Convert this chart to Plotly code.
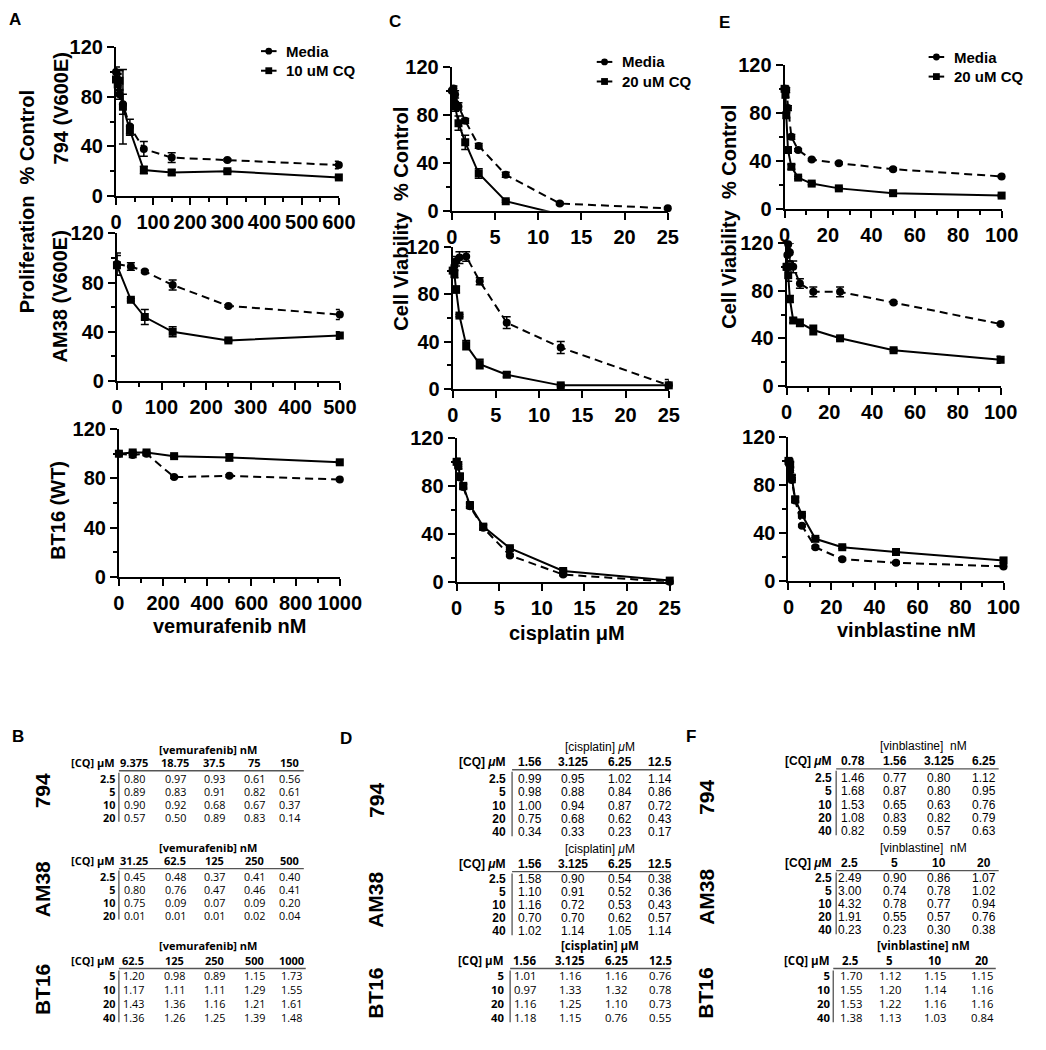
import plotly.graph_objects as go

W, H = 1046, 1050

# ---------------- Panel A: vemurafenib ----------------
vem_794_dose = [0, 4.6875, 9.375, 18.75, 37.5, 75, 150, 300, 600]
vem_794_media = [100, 94, 82, 74, 56, 38, 31, 29, 25]
vem_794_media_err = [4, 5, 4, 8, 6, 6, 4, 1, 3]
vem_794_cq = [94, 90, 93, 72, 53, 21, 19, 20, 15]
vem_794_cq_err = [6, 8, 8, 30, 4, 3, 2, 1, 1]

vem_am38_dose = [0, 31.25, 62.5, 125, 250, 500]
vem_am38_media = [95, 93, 89, 78, 61, 54]
vem_am38_media_err = [9, 3, 1, 4, 1, 4]
vem_am38_cq = [94, 66, 52, 40, 33, 37]
vem_am38_cq_err = [8, 1, 6, 4, 1, 3]

vem_bt16_dose = [0, 62.5, 125, 250, 500, 1000]
vem_bt16_media = [100, 99, 100, 81, 82, 79]
vem_bt16_media_err = [1, 2, 1, 1, 1, 1]
vem_bt16_cq = [100, 101, 101, 98, 97, 93]
vem_bt16_cq_err = [1, 1, 1, 1, 3, 1]

# ---------------- Panel C: cisplatin ----------------
cis_dose = [0, 0.195, 0.39, 0.78, 1.56, 3.125, 6.25, 12.5, 25]
cis_794_media = [100, 102, 97, 87, 75, 54, 30, 6, 2]
cis_794_media_err = [2, 2, 3, 3, 2, 2, 2, 1, 1]
cis_794_cq = [95, 93, 87, 73, 57, 31, 8, -3, -3]
cis_794_cq_err = [3, 4, 4, 6, 6, 4, 1, 0, 0]
cis_am38_media = [100, 104, 108, 111, 112, 91, 56, 35, 3]
cis_am38_media_err = [3, 3, 4, 5, 4, 3, 5, 5, 5]
cis_am38_cq = [100, 97, 84, 62, 37, 21, 12, 3, 3]
cis_am38_cq_err = [3, 3, 3, 1, 4, 4, 2, 1, 1]
cis_bt16_media = [100, 96, 87, 79, 63, 45, 22, 6, 0]
cis_bt16_media_err = [2, 2, 2, 2, 2, 2, 1, 1, 1]
cis_bt16_cq = [100, 97, 88, 80, 64, 46, 28, 9, 1]
cis_bt16_cq_err = [3, 3, 2, 2, 2, 2, 1, 1, 1]

# ---------------- Panel E: vinblastine ----------------
vin_dose = [0, 0.39, 0.78, 1.56, 3.125, 6.25, 12.5, 25, 50, 100]
vin_794_media = [100, 100, 99, 84, 60, 49, 41, 38, 33, 27]
vin_794_media_err = [2, 2, 2, 2, 2, 1, 1, 1, 1, 1]
vin_794_cq = [100, 95, 78, 49, 35, 26, 21, 17, 13, 11]
vin_794_cq_err = [2, 2, 2, 2, 2, 1, 1, 1, 1, 1]
vin_am38_media = [100, 110, 119, 112, 100, 86, 79, 79, 70, 52]
vin_am38_media_err = [5, 5, 5, 8, 5, 4, 4, 4, 1, 1]
vin_am38_cq = [100, 100, 93, 73, 55, 53, 47, 40, 30, 22]
vin_am38_cq_err = [5, 5, 5, 3, 2, 3, 4, 1, 1, 3]
vin_bt16_media = [100, 97, 92, 84, 67, 46, 28, 18, 15, 12]
vin_bt16_media_err = [2, 2, 2, 2, 2, 1, 1, 1, 1, 1]
vin_bt16_cq = [100, 99, 97, 86, 68, 55, 35, 28, 24, 17]
vin_bt16_cq_err = [2, 2, 2, 2, 2, 1, 1, 1, 1, 2]

# ---------------- Tables (CI values) ----------------
B_794_cols = ["9.375", "18.75", "37.5", "75", "150"]
B_794_cq = ["2.5", "5", "10", "20"]
B_794_vals = [[0.80, 0.97, 0.93, 0.61, 0.56],
              [0.89, 0.83, 0.91, 0.82, 0.61],
              [0.90, 0.92, 0.68, 0.67, 0.37],
              [0.57, 0.50, 0.89, 0.83, 0.14]]
B_AM38_cols = ["31.25", "62.5", "125", "250", "500"]
B_AM38_cq = ["2.5", "5", "10", "20"]
B_AM38_vals = [[0.45, 0.48, 0.37, 0.41, 0.40],
               [0.80, 0.76, 0.47, 0.46, 0.41],
               [0.75, 0.09, 0.07, 0.09, 0.20],
               [0.01, 0.01, 0.01, 0.02, 0.04]]
B_BT16_cols = ["62.5", "125", "250", "500", "1000"]
B_BT16_cq = ["5", "10", "20", "40"]
B_BT16_vals = [[1.20, 0.98, 0.89, 1.15, 1.73],
               [1.17, 1.11, 1.11, 1.29, 1.55],
               [1.43, 1.36, 1.16, 1.21, 1.61],
               [1.36, 1.26, 1.25, 1.39, 1.48]]

D_794_cols = ["1.56", "3.125", "6.25", "12.5"]
D_794_cq = ["2.5", "5", "10", "20", "40"]
D_794_vals = [[0.99, 0.95, 1.02, 1.14],
              [0.98, 0.88, 0.84, 0.86],
              [1.00, 0.94, 0.87, 0.72],
              [0.75, 0.68, 0.62, 0.43],
              [0.34, 0.33, 0.23, 0.17]]
D_AM38_cols = ["1.56", "3.125", "6.25", "12.5"]
D_AM38_cq = ["2.5", "5", "10", "20", "40"]
D_AM38_vals = [[1.58, 0.90, 0.54, 0.38],
               [1.10, 0.91, 0.52, 0.36],
               [1.16, 0.72, 0.53, 0.43],
               [0.70, 0.70, 0.62, 0.57],
               [1.02, 1.14, 1.05, 1.14]]
D_BT16_cols = ["1.56", "3.125", "6.25", "12.5"]
D_BT16_cq = ["5", "10", "20", "40"]
D_BT16_vals = [[1.01, 1.16, 1.16, 0.76],
               [0.97, 1.33, 1.32, 0.78],
               [1.16, 1.25, 1.10, 0.73],
               [1.18, 1.15, 0.76, 0.55]]

F_794_cols = ["0.78", "1.56", "3.125", "6.25"]
F_794_cq = ["2.5", "5", "10", "20", "40"]
F_794_vals = [[1.46, 0.77, 0.80, 1.12],
              [1.68, 0.87, 0.80, 0.95],
              [1.53, 0.65, 0.63, 0.76],
              [1.08, 0.83, 0.82, 0.79],
              [0.82, 0.59, 0.57, 0.63]]
F_AM38_cols = ["2.5", "5", "10", "20"]
F_AM38_cq = ["2.5", "5", "10", "20", "40"]
F_AM38_vals = [[2.49, 0.90, 0.86, 1.07],
               [3.00, 0.74, 0.78, 1.02],
               [4.32, 0.78, 0.77, 0.94],
               [1.91, 0.55, 0.57, 0.76],
               [0.23, 0.23, 0.30, 0.38]]
F_BT16_cols = ["2.5", "5", "10", "20"]
F_BT16_cq = ["5", "10", "20", "40"]
F_BT16_vals = [[1.70, 1.12, 1.15, 1.15],
               [1.55, 1.20, 1.14, 1.16],
               [1.53, 1.22, 1.16, 1.16],
               [1.38, 1.13, 1.03, 0.84]]

# ------------------------------------------------------------
ARIAL = "Arial, Liberation Sans, Helvetica, sans-serif"
MYRIAD = "Open Sans, Lato, sans-serif"


def px(x):
    return x / W


def py(y):
    return 1 - y / H


fig = go.Figure()

# subplot frames (pixel boxes): x-left, x-right, y(value 0), y(value 120)
frames = [
    dict(x=(113, 342), y=(189, 37), xr=600, dt=100, mdt=50),
    dict(x=(114, 343), y=(378, 227), xr=500, dt=100, mdt=50),
    dict(x=(116, 343), y=(578, 427), xr=1000, dt=200, mdt=100),
    dict(x=(458, 680), y=(204, 57), xr=25, dt=5, mdt=None),
    dict(x=(459, 681), y=(386, 241), xr=25, dt=5, mdt=None),
    dict(x=(463, 682), y=(583, 436), xr=25, dt=5, mdt=None),
    dict(x=(800, 1023), y=(202, 55), xr=100, dt=20, mdt=10),
    dict(x=(802, 1022), y=(383, 237), xr=100, dt=20, mdt=10),
    dict(x=(804, 1025), y=(582, 435), xr=100, dt=20, mdt=10),
]

series = [
    (vem_794_dose, vem_794_media, vem_794_media_err, vem_794_cq, vem_794_cq_err),
    (vem_am38_dose, vem_am38_media, vem_am38_media_err, vem_am38_cq, vem_am38_cq_err),
    (vem_bt16_dose, vem_bt16_media, vem_bt16_media_err, vem_bt16_cq, vem_bt16_cq_err),
    (cis_dose, cis_794_media, cis_794_media_err, cis_794_cq, cis_794_cq_err),
    (cis_dose, cis_am38_media, cis_am38_media_err, cis_am38_cq, cis_am38_cq_err),
    (cis_dose, cis_bt16_media, cis_bt16_media_err, cis_bt16_cq, cis_bt16_cq_err),
    (vin_dose, vin_794_media, vin_794_media_err, vin_794_cq, vin_794_cq_err),
    (vin_dose, vin_am38_media, vin_am38_media_err, vin_am38_cq, vin_am38_cq_err),
    (vin_dose, vin_bt16_media, vin_bt16_media_err, vin_bt16_cq, vin_bt16_cq_err),
]

tickfont = dict(family=ARIAL, size=20, color="black", weight="bold")

for i, (fr, (xs, med, med_e, cq, cq_e)) in enumerate(zip(frames, series)):
    n = "" if i == 0 else str(i + 1)
    xa, ya = "x" + n, "y" + n
    has_neg = min(cq) < 0
    fig.add_trace(go.Scatter(
        x=xs, y=med, xaxis=xa, yaxis=ya, mode="lines+markers", showlegend=False,
        line=dict(color="black", width=2, dash="8px,5px"),
        marker=dict(symbol="circle", size=8, color="black"),
        error_y=dict(type="data", array=med_e, color="black", thickness=1.5, width=4),
        cliponaxis=False))
    fig.add_trace(go.Scatter(
        x=xs, y=cq, xaxis=xa, yaxis=ya, mode="lines+markers", showlegend=False,
        line=dict(color="black", width=2),
        marker=dict(symbol="square", size=8, color="black"),
        error_y=dict(type="data", array=cq_e, color="black", thickness=1.5, width=4),
        cliponaxis=has_neg))
    axstyle = dict(showline=True, linewidth=2, linecolor="black", ticks="outside",
                   ticklen=7, tickwidth=2, tickcolor="black", showgrid=False,
                   zeroline=False, tickfont=tickfont, fixedrange=True, tick0=0,
                   tickangle=0)
    xdef = dict(axstyle, domain=[px(fr["x"][0]), px(fr["x"][1])], anchor=ya,
                range=[0, fr["xr"]], dtick=fr["dt"])
    if fr["mdt"]:
        xdef["minor"] = dict(dtick=fr["mdt"], ticks="outside", ticklen=4,
                             tickwidth=2, tickcolor="black", showgrid=False)
    ydef = dict(axstyle, domain=[py(fr["y"][0]), py(fr["y"][1])], anchor=xa,
                range=[0, 120], dtick=40,
                minor=dict(dtick=20, ticks="outside", ticklen=4, tickwidth=2,
                           tickcolor="black", showgrid=False))
    fig.update_layout(**{"xaxis" + n: xdef, "yaxis" + n: ydef})

ann = []
shapes = []


def text(x, y, s, size=20, family=ARIAL, bold=True, angle=0, xanchor="center",
         yanchor="middle", align="center"):
    ann.append(dict(x=px(x), y=py(y), xref="paper", yref="paper", text=s,
                    showarrow=False, textangle=angle, xanchor=xanchor,
                    yanchor=yanchor, align=align, borderpad=0,
                    font=dict(family=family, size=size, color="black",
                              weight="bold" if bold else "normal")))


# Panel letters
for lab, (x, y) in {"A": (9, 9), "C": (400, 11), "E": (738, 12),
                    "B": (12, 741), "D": (349, 743), "F": (704, 741)}.items():
    text(x, y, lab, size=17)

# axis titles
text(22, 195, "Proliferation  % Control", angle=-90)
text(56, 100, "794 (V600E)", angle=-90)
text(55, 292, "AM38 (V600E)", angle=-90)
text(54, 510, "BT16 (WT)", angle=-90)
text(405, 212, "Cell Viability  % Control", angle=-90)
text(742, 210, "Cell Viability  % Control", angle=-90)
text(230, 628, "vemurafenib nM")
text(576, 635, "cisplatin μM")
text(925, 632, "vinblastine nM")

# legends
for (lx, ly, lab2) in [(262, 41, "10 uM CQ"), (607, 52, "20 uM CQ"), (948, 47, "20 uM CQ")]:
    for k, (lab, sym) in enumerate([("Media", "circle"), (lab2, "square")]):
        yy = ly + 20 * k
        shapes.append(dict(type="line", xref="paper", yref="paper",
                           x0=px(lx), x1=px(lx + 16), y0=py(yy), y1=py(yy),
                           line=dict(color="black", width=2)))
        cx = lx + 8
        shapes.append(dict(type="circle" if sym == "circle" else "rect",
                           xref="paper", yref="paper",
                           x0=px(cx - 3.5), x1=px(cx + 3.5), y0=py(yy - 3.5), y1=py(yy + 3.5),
                           fillcolor="black", line=dict(color="black", width=0)))
        text(lx + 25, yy, lab, size=15, xanchor="left")


def hline(x0, x1, y, color="#555", w=1.3):
    shapes.append(dict(type="line", xref="paper", yref="paper", x0=px(x0), x1=px(x1),
                       y0=py(y), y1=py(y), line=dict(color=color, width=w)))


def vline(x, y0, y1, color="#555", w=1.3):
    shapes.append(dict(type="line", xref="paper", yref="paper", x0=px(x), x1=px(x),
                       y0=py(y0), y1=py(y1), line=dict(color=color, width=w)))


def draw_table(group, gpos, title, tpos, head, head_y, lab_x, col_x, cols, rows,
               row_y, vals, hl, vl, myriad, hsize, vsize):
    fam = MYRIAD if myriad else ARIAL
    step = (row_y[-1] - row_y[0]) / (len(row_y) - 1)
    lsize = step / 1.3   # sets line spacing of the multi-line blocks
    ymid = (row_y[0] + row_y[-1]) / 2
    text(gpos[0], gpos[1], group, size=21, angle=-90)
    text(tpos[0], tpos[1], title, size=hsize, family=fam, bold=myriad)
    text(lab_x, head_y, head, size=hsize, family=fam, bold=True, xanchor="right")
    for cx, c in zip(col_x, cols):
        text(cx, head_y, c, size=hsize, family=fam, bold=True)

    def sp(s):
        return f'<span style="font-size:{vsize}px">{s}</span>'
    # row labels as one right-aligned column block
    text(lab_x, ymid, "<br>".join(sp(r) for r in rows), size=lsize, family=fam,
         bold=True, xanchor="right", align="right")
    # value columns
    for j, cx in enumerate(col_x):
        col = "<br>".join(sp(f"{vrow[j]:.2f}") for vrow in vals)
        text(cx, ymid, col, size=lsize, family=fam, bold=False)
    hline(*hl)
    vline(*vl)


# B tables
Bcols = [132, 174, 214, 255, 291]
draw_table("794", (37, 797), "[vemurafenib] nM", (208, 754), "[CQ] μM", 768, 113,
           Bcols, B_794_cols, B_794_cq, [784, 797, 810, 823], B_794_vals,
           (116, 306, 776), (116, 778, 828), True, 11, 10.8)
draw_table("AM38", (37, 897), "[vemurafenib] nM", (208, 854), "[CQ] μM", 868, 113,
           Bcols, B_AM38_cols, B_AM38_cq, [884, 897, 910, 923], B_AM38_vals,
           (116, 306, 876), (116, 878, 928), True, 11, 10.8)
draw_table("BT16", (37, 1000), "[vemurafenib] nM", (208, 955), "[CQ] μM", 970, 113,
           [131, 173, 214, 255, 293], B_BT16_cols, B_BT16_cq, [986, 1000, 1014, 1028],
           B_BT16_vals, (116, 308, 978), (116, 980, 1033), True, 11, 10.8)

# D tables
Dcols = [538, 583, 631, 672]
draw_table("794", (380, 806), "[cisplatin] <i>μ</i>M", (610, 752), "[CQ] <i>μ</i>M", 767, 515,
           Dcols, D_794_cols, D_794_cq, [785, 798, 811, 825, 838], D_794_vals,
           (520, 683, 775), (520, 777, 843), False, 12, 12)
draw_table("AM38", (380, 908), "[cisplatin] <i>μ</i>M", (610, 856), "[CQ] <i>μ</i>M", 871, 515,
           Dcols, D_AM38_cols, D_AM38_cq, [887, 900, 913, 926, 939], D_AM38_vals,
           (520, 683, 879), (520, 881, 944), False, 12, 12)
draw_table("BT16", (380, 1003), "[cisplatin] μM", (610, 955), "[CQ] μM", 970, 513,
           [533, 580, 627, 672], D_BT16_cols, D_BT16_cq, [986, 1000, 1014, 1028],
           D_BT16_vals, (518, 683, 978), (518, 980, 1033), True, 11.5, 11.3)

# F tables
draw_table("794", (719, 803), "[vinblastine]  nM", (943, 751), "[CQ] <i>μ</i>M", 766, 850,
           [870, 913, 959, 1005], F_794_cols, F_794_cq, [784, 797, 810, 824, 837],
           F_794_vals, (853, 1020, 774), (853, 776, 842), False, 12, 12)
draw_table("AM38", (719, 905), "[vinblastine]  nM", (943, 855), "[CQ] <i>μ</i>M", 870, 850,
           [867, 913, 959, 1005], F_AM38_cols, F_AM38_cq, [886, 899, 912, 925, 938],
           F_AM38_vals, (853, 1020, 878), (853, 880, 943), False, 12, 12)
draw_table("BT16", (719, 1003), "[vinblastine] nM", (943, 955), "[CQ] μM", 970, 848,
           [868, 908, 955, 1003], F_BT16_cols, F_BT16_cq, [986, 1000, 1014, 1028],
           F_BT16_vals, (850, 1017, 978), (850, 980, 1033), True, 11.5, 11.3)

fig.update_layout(width=W, height=H, autosize=False,
                  margin=dict(l=0, r=0, t=0, b=0),
                  paper_bgcolor="white", plot_bgcolor="white",
                  annotations=ann, shapes=shapes, showlegend=False)

fig.write_html("out.html", config={"displayModeBar": False},
               post_script="document.body.style.margin='0px';")
